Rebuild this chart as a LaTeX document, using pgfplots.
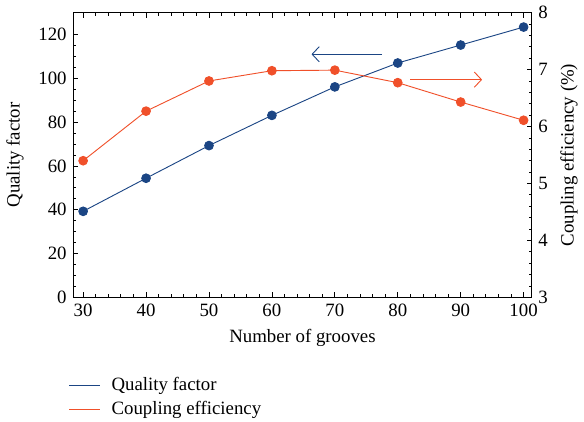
\documentclass[border=0pt]{standalone}
\usepackage{pgfplots}
\pgfplotsset{compat=1.18}
\usetikzlibrary{arrows.meta}
\usepackage{fontspec}
\setmainfont{Liberation Serif}
\definecolor{qblue}{HTML}{1B4584}
\definecolor{corange}{HTML}{F0502A}
\begin{document}
\fontsize{18.5}{22}\selectfont
\begin{tikzpicture}
\pgfplotsset{
  every axis/.append style={
    /pgf/number format/assume math mode=true,
    scale only axis, width=451pt, height=280pt,
    xmin=28.4, xmax=101.3,
    tick style={black, line width=0.8pt},
    major tick length=5pt, minor tick length=3pt,
    axis line style={line width=0.9pt},
    tick label style={font=\fontsize{18.5}{22}\selectfont},
    label style={font=\fontsize{18.5}{22}\selectfont},
  }
}
\begin{axis}[
  ymin=0, ymax=130,
  axis y line*=left,
  xtick={30,40,...,100},
  minor x tick num=4,
  ytick={0,20,...,120},
  minor y tick num=3,
  xlabel={Number of grooves},
  ylabel={Quality factor},
  ylabel style={yshift=2pt},
  xtick pos=both,
  legend style={at={(rel axis cs:-0.016,-0.265)}, anchor=north west, draw=none, fill=none,
    font=\fontsize{18.5}{22}\selectfont, row sep=4pt, nodes={inner xsep=11pt}},
  legend cell align=left,
  legend image code/.code={\draw[#1] (0cm,0cm) -- (30pt,0cm);},
]
\addplot[qblue, line width=0.9pt, mark=*, mark size=4.3pt, mark options={fill=qblue, draw=qblue}, forget plot]
coordinates {(30,39.3) (40,54.4) (50,69.3) (60,83.1) (70,96.1) (80,107.0) (90,115.2) (100,123.4)};
\addlegendimage{qblue, line width=0.9pt}
\addlegendentry{Quality factor}
\addlegendimage{corange, line width=0.9pt}
\addlegendentry{Coupling efficiency}
\draw[qblue, line width=0.9pt, -{Straight Barb[length=7pt,width=15pt]}] (axis cs:77.5,111) -- (axis cs:66.3,111);
\draw[corange, line width=0.9pt, -{Straight Barb[length=7pt,width=15pt]}] (axis cs:82,99.4) -- (axis cs:93.4,99.4);
\end{axis}
\begin{axis}[
  ymin=3, ymax=8,
  axis y line*=right,
  axis x line=none,
  ytick={3,4,...,8},
  minor y tick num=4,
  ylabel={Coupling efficiency (\%)},
]
\addplot[corange, line width=0.9pt, mark=*, mark size=4.3pt, mark options={fill=corange, draw=corange}]
coordinates {(30,5.40) (40,6.27) (50,6.80) (60,6.98) (70,6.99) (80,6.77) (90,6.43) (100,6.11)};
\end{axis}
\end{tikzpicture}
\end{document}
